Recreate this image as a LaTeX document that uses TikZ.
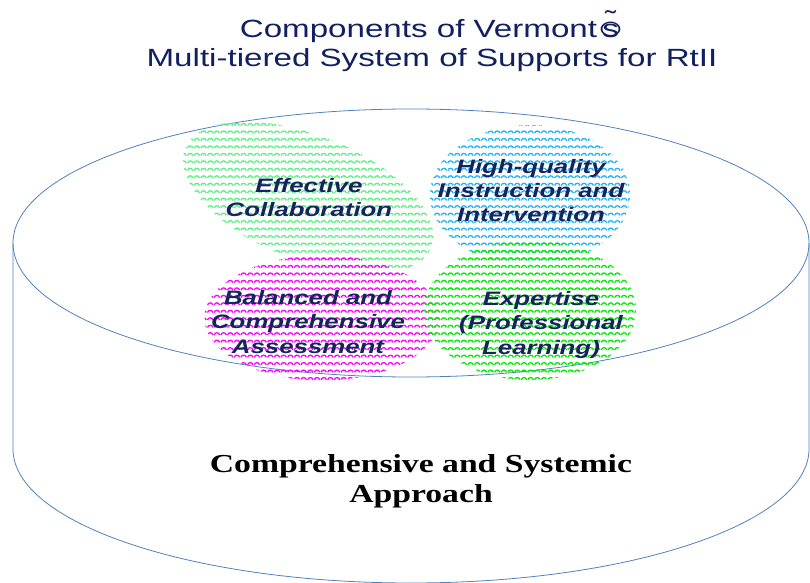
\documentclass[tikz,border=0pt]{standalone}
\usepackage{fontspec}
\setmainfont[FakeStretch=1.3]{Liberation Serif}
\newfontfamily\arialfont[FakeStretch=1.33]{Liberation Sans}
\usetikzlibrary{shapes.geometric, patterns}
\definecolor{tubline}{RGB}{79,129,189}
\definecolor{titleblue}{RGB}{16,32,96}
\definecolor{petalnavy}{RGB}{20,36,92}
\definecolor{collabgreen}{RGB}{90,240,130}
\definecolor{instrcyan}{RGB}{30,180,245}
\definecolor{assesspink}{RGB}{255,0,255}
\definecolor{expertlime}{RGB}{0,235,0}
% small arches, as in the fill of the four petals
\pgfdeclarepatternformonly{scallops}{\pgfqpoint{-0.5pt}{-0.5pt}}{\pgfqpoint{7.2pt}{7.8pt}}{\pgfqpoint{6.7pt}{7.5pt}}{
	\pgfsetlinewidth{1.3pt}
	\pgfpathmoveto{\pgfqpoint{0.6pt}{1.5pt}}
	\pgfpathcurveto{\pgfqpoint{1.4pt}{4.4pt}}{\pgfqpoint{5.2pt}{4.4pt}}{\pgfqpoint{6.0pt}{1.5pt}}
	\pgfusepath{stroke}
}
\newcommand{\oddmark}{\ooalign{\raisebox{-0.08em}{\scalebox{1.35}{\char"25CB}}\cr\hfil s\hfil\cr\hfil\raisebox{0.36em}{\char"02DC}\hfil\cr}}
\tikzset{
	tub/.style={draw=tubline, line width=0.8pt},
	petal/.style={ellipse, inner sep=0pt, pattern=scallops},
	% base anchor sits on the last line
	petaltext/.style={anchor=base, align=center, text=petalnavy, font=\arialfont\bfseries\itshape\fontsize{19.5}{24.5}\selectfont},
	titletext/.style={anchor=base, align=center, text=titleblue, font=\arialfont\fontsize{25}{30}\selectfont},
	basetext/.style={anchor=base, align=center, text=black, font=\bfseries\fontsize{26}{30}\selectfont},
}

\begin{document}
\begin{tikzpicture}[x=1bp, y=-1bp]
	\useasboundingbox (0,0) rectangle (810,583);
	
	% the tub
	\begin{scope}
		\clip (0,0) rectangle (810,583);
		\draw[tub] (411,243) ellipse [x radius=398, y radius=134];
		\draw[tub] (13,243) -- (13,449) arc [start angle=180, end angle=0, x radius=398, y radius=134] -- (809,243);
	\end{scope}
	
	\node (title) [titletext] at (432,67) {Components of Vermont\oddmark\\Multi-tiered System of Supports for RtII};
	
	% petals
	\node (collab) [petal, pattern color=collabgreen, minimum width=265bp, minimum height=125bp, rotate=-22] at (308,198) {};
	\node (instr) [petal, pattern color=instrcyan, minimum width=200bp, minimum height=140bp] at (530,195) {};
	\node (assess) [petal, pattern color=assesspink, minimum width=235bp, minimum height=125bp] at (322,318) {};
	\node (expert) [petal, pattern color=expertlime, minimum width=212bp, minimum height=140bp] at (530,310) {};
	
	\node (collabtxt) [petaltext] at (309,217) {Effective\\Collaboration};
	\node (instrtxt) [petaltext] at (531,222) {High-quality\\Instruction and\\Intervention};
	\node (assesstxt) [petaltext] at (308,353) {Balanced and\\Comprehensive\\Assessment};
	\node (experttxt) [petaltext] at (541,354) {Expertise\\(Professional\\Learning)};
	
	\node (approach) [basetext] at (421,502) {Comprehensive and Systemic\\Approach};
\end{tikzpicture}
\end{document}
